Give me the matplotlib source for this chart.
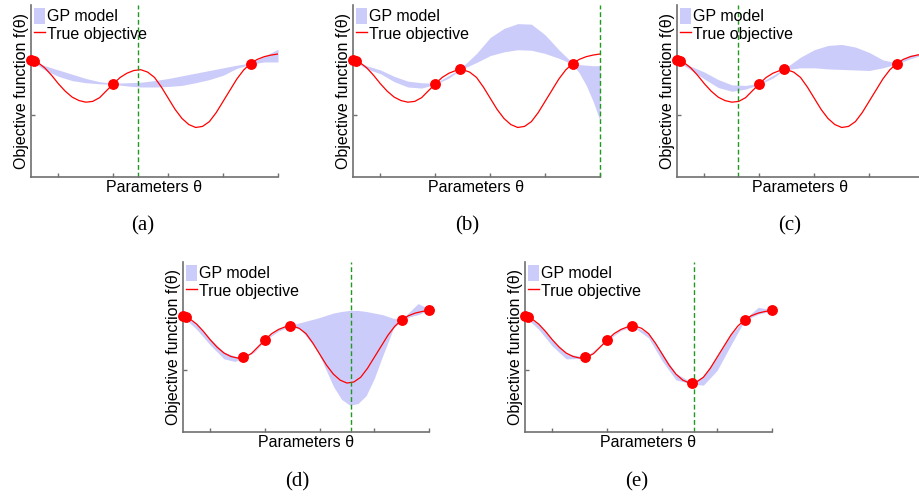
import matplotlib
matplotlib.use("Agg")
import matplotlib.pyplot as plt
from matplotlib.patches import Patch
from matplotlib.lines import Line2D

W, H = 920, 499

# true objective
true_x = [0.5, 0.625, 0.75, 0.875, 1.0, 1.125, 1.25, 1.375, 1.5, 1.625, 1.75, 1.875,
          2.0, 2.125, 2.25, 2.375, 2.5, 2.625, 2.75, 2.875, 3.0, 3.125, 3.25, 3.375,
          3.5, 3.625, 3.75, 3.875, 4.0, 4.125, 4.25, 4.375, 4.5, 4.625, 4.75, 4.875, 5.0]
true_y = [2.03, 1.98, 1.88, 1.74, 1.58, 1.44, 1.33, 1.265, 1.235, 1.25, 1.32, 1.45,
          1.58, 1.70, 1.78, 1.83, 1.845, 1.80, 1.70, 1.52, 1.31, 1.10, 0.93, 0.815,
          0.76, 0.78, 0.87, 1.04, 1.25, 1.46, 1.67, 1.84, 1.96, 2.04, 2.09, 2.12, 2.14]

# GP band per panel (lower / upper edge)
a_x = [0.5, 0.75, 1.0, 1.25, 1.5, 1.75, 2.0, 2.25, 2.5, 2.75, 3.0, 3.25, 3.5, 3.75, 4.0, 4.25, 4.5, 4.75, 5.0]
a_hi = [2.03, 1.92, 1.84, 1.76, 1.68, 1.62, 1.59, 1.60, 1.61, 1.64, 1.68, 1.73, 1.78, 1.83, 1.88, 1.93, 1.97, 2.10, 2.23]
a_lo = [2.01, 1.84, 1.72, 1.64, 1.60, 1.58, 1.57, 1.54, 1.52, 1.52, 1.53, 1.55, 1.60, 1.66, 1.74, 1.87, 1.95, 1.99, 1.99]

b_x = [0.5, 0.75, 1.0, 1.25, 1.5, 1.75, 2.0, 2.25, 2.45, 2.75, 3.0, 3.25, 3.5, 3.75, 4.0, 4.25, 4.5, 4.625, 4.75, 4.875, 5.0]
b_hi = [2.03, 1.92, 1.84, 1.72, 1.63, 1.60, 1.59, 1.74, 1.86, 2.15, 2.45, 2.62, 2.71, 2.70, 2.50, 2.22, 1.97, 1.94, 1.93, 1.92, 1.92]
b_lo = [2.01, 1.86, 1.77, 1.62, 1.52, 1.50, 1.57, 1.69, 1.84, 1.98, 2.11, 2.18, 2.22, 2.21, 2.15, 2.06, 1.95, 1.78, 1.55, 1.25, 0.89]

c_x = [0.5, 0.75, 1.0, 1.25, 1.5, 1.75, 2.0, 2.25, 2.45, 2.75, 3.0, 3.25, 3.5, 3.75, 4.0, 4.25, 4.5, 4.75, 5.0]
c_hi = [2.03, 1.91, 1.80, 1.66, 1.56, 1.55, 1.59, 1.74, 1.86, 2.08, 2.22, 2.30, 2.32, 2.27, 2.17, 2.03, 1.97, 2.12, 2.15]
c_lo = [2.01, 1.84, 1.67, 1.51, 1.44, 1.48, 1.57, 1.69, 1.84, 1.88, 1.88, 1.86, 1.85, 1.84, 1.83, 1.88, 1.95, 2.05, 2.13]

d_x = [0.5, 0.75, 1.0, 1.25, 1.45, 1.6, 1.8, 2.0, 2.25, 2.47, 2.65, 2.95, 3.1, 3.25, 3.4, 3.55,
       3.7, 3.85, 4.0, 4.15, 4.35, 4.5, 4.65, 4.8, 5.0]
d_hi = [2.04, 1.89, 1.60, 1.35, 1.27, 1.26, 1.37, 1.59, 1.79, 1.86, 1.91, 1.99, 2.04, 2.09, 2.12, 2.14,
        2.14, 2.12, 2.09, 2.06, 1.99, 1.97, 2.12, 2.27, 2.17]
d_lo = [2.02, 1.78, 1.48, 1.22, 1.17, 1.24, 1.34, 1.57, 1.75, 1.84, 1.78, 1.40, 1.05, 0.70, 0.45, 0.34,
        0.37, 0.52, 0.85, 1.27, 1.80, 1.95, 2.02, 2.06, 2.15]

e_x = [0.5, 0.75, 1.0, 1.25, 1.6, 2.0, 2.25, 2.47, 2.75, 3.0, 3.25, 3.55, 3.75, 4.0, 4.25, 4.5, 4.75, 5.0]
e_hi = [2.04, 1.88, 1.58, 1.32, 1.25, 1.59, 1.79, 1.85, 1.71, 1.32, 0.94, 0.77, 0.89, 1.26, 1.68, 1.97, 2.20, 2.15]
e_lo = [2.02, 1.78, 1.46, 1.22, 1.23, 1.57, 1.76, 1.83, 1.62, 1.18, 0.82, 0.74, 0.72, 1.00, 1.48, 1.95, 2.07, 2.13]

# observed points per panel
a_obs_x = [0.5, 0.56, 2.0, 4.5]
a_obs_y = [2.03, 2.01, 1.58, 1.96]
b_obs_x = [0.5, 0.56, 2.0, 2.45, 4.5]
b_obs_y = [2.03, 2.01, 1.58, 1.85, 1.96]
c_obs_x = [0.5, 0.56, 2.0, 2.45, 4.5, 5.0]
c_obs_y = [2.03, 2.01, 1.58, 1.85, 1.96, 2.14]
d_obs_x = [0.5, 0.56, 1.6, 2.0, 2.45, 4.5, 5.0]
d_obs_y = [2.03, 2.01, 1.25, 1.58, 1.85, 1.96, 2.14]
e_obs_x = [0.5, 0.56, 1.6, 2.0, 2.45, 3.55, 4.5, 5.0]
e_obs_y = [2.03, 2.01, 1.25, 1.58, 1.85, 0.77, 1.96, 2.14]

next_x = [2.45, 5.0, 1.61, 3.57, 3.58]
captions = ["(a)", "(b)", "(c)", "(d)", "(e)"]

BAND = "#ccccfa"
RED = "#ff0000"
GREEN = "#1f9a1f"
SPINE = "#707070"
SANS = "Liberation Sans"

# axes boxes in pixels: left, right, top, bottom
boxes = [(31, 278, 5, 177), (353, 600, 5, 177), (677, 924, 5, 177),
         (183, 429, 262, 432), (525, 772, 262, 432)]
cap_pos = [(143, 226), (467, 226), (790, 226), (297, 482), (637, 482)]

panels = [(a_x, a_lo, a_hi, a_obs_x, a_obs_y),
          (b_x, b_lo, b_hi, b_obs_x, b_obs_y),
          (c_x, c_lo, c_hi, c_obs_x, c_obs_y),
          (d_x, d_lo, d_hi, d_obs_x, d_obs_y),
          (e_x, e_lo, e_hi, e_obs_x, e_obs_y)]

fig = plt.figure(figsize=(W / 100, H / 100), dpi=100)

for i, (bx, lo, hi, ox, oy) in enumerate(panels):
    l, r, t, b = boxes[i]
    ax = fig.add_axes([l / W, 1 - b / H, (r - l) / W, (b - t) / H])
    ax.fill_between(bx, lo, hi, color=BAND, lw=0)
    ax.plot(true_x, true_y, color=RED, lw=0.9)
    ax.axvline(next_x[i], color=GREEN, lw=1.0, dashes=(3.5, 2), clip_on=False)
    ax.plot(ox, oy, "o", color=RED, ms=6.8, clip_on=False, zorder=5)

    ax.set_xlim(0.5, 5.0)
    ax.set_ylim(-0.17, 3.06)
    ax.set_xticks([1, 2, 3, 4, 5])
    ax.set_yticks([1, 2])
    ax.set_xticklabels([])
    ax.set_yticklabels([])
    ax.tick_params(direction="in", length=3, color=SPINE, width=1)
    for s in ["top", "right"]:
        ax.spines[s].set_visible(False)
    for s in ["left", "bottom"]:
        ax.spines[s].set_color(SPINE)
        ax.spines[s].set_linewidth(1.2)

    ax.set_xlabel("Parameters θ", family=SANS, fontsize=11.5, labelpad=-1)
    ax.set_ylabel("Objective function f(θ)", family=SANS, fontsize=11.5, labelpad=-2)

    handles = [Patch(facecolor=BAND, edgecolor="none"),
               Line2D([], [], color=RED, lw=1.0)]
    ax.legend(handles, ["GP model", "True objective"], loc="upper left",
              frameon=False, prop={"family": SANS, "size": 11.5},
              handlelength=0.65, handletextpad=0.15, labelspacing=0.1,
              handleheight=1.1, borderpad=0.1, borderaxespad=0.1)

    cx, cy = cap_pos[i]
    fig.text(cx / W, 1 - cy / H, captions[i], family="Liberation Serif",
             fontsize=15, ha="center", va="center")

fig.savefig("out.png", dpi=100)
